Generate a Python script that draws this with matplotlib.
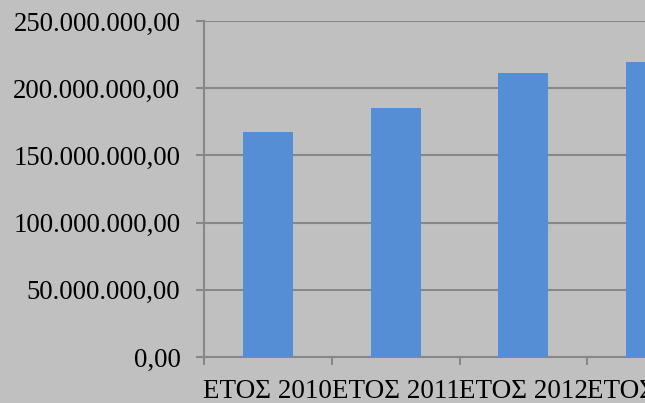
import numpy as np
import matplotlib.pyplot as plt
from matplotlib.ticker import FuncFormatter, MultipleLocator

years = ["ΕΤΟΣ 2010", "ΕΤΟΣ 2011", "ΕΤΟΣ 2012", "ΕΤΟΣ 2013"]
amounts = [167_500_000, 185_000_000, 211_500_000, 219_500_000]

BG = "#c0c0c0"
BAR = "#558ed5"
GRID = "#878787"

plt.rcParams["font.family"] = ["Liberation Serif", "DejaVu Serif"]


def greek_number(v, pos=None):
    # 250000000 -> "250.000.000,00"
    s = f"{v:,.2f}"
    return s.replace(",", "X").replace(".", ",").replace("X", ".")


def main() -> None:
    fig = plt.figure(figsize=(6.45, 4.03), dpi=100, facecolor=BG)
    ax = fig.add_axes([204 / 645, 1 - 357 / 403, 511 / 645, 336 / 403])
    ax.set_facecolor(BG)

    x = np.arange(len(years))
    ax.bar(x, amounts, width=0.39, color=BAR, zorder=3)

    ax.set_xlim(-0.5, len(years) - 0.5)
    ax.set_ylim(0, 250_000_000)
    ax.yaxis.set_major_locator(MultipleLocator(50_000_000))
    ax.yaxis.set_major_formatter(FuncFormatter(greek_number))
    ax.grid(axis="y", color=GRID, linewidth=1.5, zorder=0)

    ax.set_xticks(x)
    ax.set_xticklabels(years)
    ax.set_xticks(np.arange(len(years)) - 0.5, minor=True)
    ax.tick_params(axis="x", which="major", length=0, pad=16, labelsize=19.5)
    ax.tick_params(axis="x", which="minor", length=6, width=1.5, color=GRID)
    ax.tick_params(axis="y", length=6, width=1.5, color=GRID, pad=11, labelsize=19.3)

    for side in ("top", "right"):
        ax.spines[side].set_visible(False)
    for side in ("left", "bottom"):
        ax.spines[side].set_color(GRID)
        ax.spines[side].set_linewidth(1.5)

    fig.savefig("out.png", dpi=100, facecolor=BG)


if __name__ == "__main__":
    main()
